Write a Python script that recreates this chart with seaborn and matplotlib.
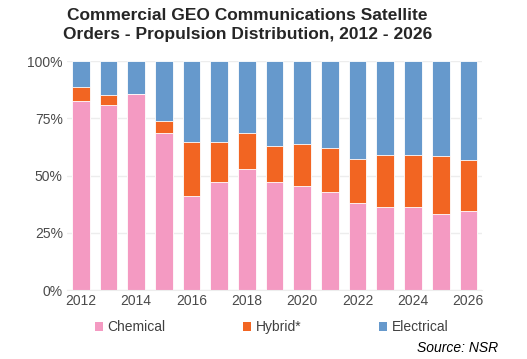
import matplotlib
matplotlib.use("Agg")
import matplotlib.pyplot as plt
import seaborn as sns
import pandas as pd
import numpy as np
from matplotlib.patches import Patch

years = [str(y) for y in range(2012, 2027)]
chemical = [82.5, 80.7, 85.8, 68.5, 41.0, 47.0, 52.7, 47.4, 45.3, 42.8, 37.8, 36.4, 36.4, 33.3, 34.6]
hybrid = [6.0, 4.3, 0.0, 5.2, 23.5, 17.5, 15.8, 15.7, 18.3, 19.1, 19.4, 22.7, 22.7, 25.2, 22.0]
electrical = [round(100 - c - h, 1) for c, h in zip(chemical, hybrid)]

series_names = ["Chemical", "Hybrid*", "Electrical"]
colors = {"Chemical": "#F49AC2", "Hybrid*": "#F26522", "Electrical": "#6699CC"}

sns.set_style("white")
plt.rcParams["font.family"] = ["Liberation Sans", "DejaVu Sans"]

df = pd.DataFrame({"year": years, "Chemical": chemical, "Hybrid*": hybrid, "Electrical": electrical})
df["cum_chem"] = df["Chemical"]
df["cum_hyb"] = df["Chemical"] + df["Hybrid*"]
df["cum_all"] = df["cum_hyb"] + df["Electrical"]

fig = plt.figure(figsize=(5.27, 3.59), dpi=100)
ax = fig.add_axes([0.127, 0.192, 0.788, 0.638])

for col, name in [("cum_all", "Electrical"), ("cum_hyb", "Hybrid*"), ("cum_chem", "Chemical")]:
    sns.barplot(data=df, x="year", y=col, color=colors[name], saturation=1, width=0.64,
                edgecolor="white", linewidth=0.6, ax=ax)

ax.set_xlim(-0.5, len(years) - 0.5)
ax.set_ylim(0, 100)
ax.set_yticks([0, 25, 50, 75, 100])
ax.set_yticklabels(["0%", "25%", "50%", "75%", "100%"])
ax.set_xticks(range(0, len(years), 2))
ax.set_xticklabels(years[::2])
ax.set_xlabel("")
ax.set_ylabel("")
ax.yaxis.grid(True, color="#EDEDED", linewidth=1)
ax.set_axisbelow(True)
for s in ["top", "right", "left"]:
    ax.spines[s].set_visible(False)
ax.spines["bottom"].set_color("#EDEDED")
ax.tick_params(axis="both", length=0, labelsize=10, colors="#4A4A4A", pad=3)

fig.suptitle("Commercial GEO Communications Satellite\nOrders - Propulsion Distribution, 2012 - 2026",
             x=0.47, y=0.977, fontsize=12.5, fontweight="bold", linespacing=1.3)

handles = [Patch(facecolor=colors[n], edgecolor="none") for n in series_names]
fig.legend(handles, series_names, loc="center", bbox_to_anchor=(0.515, 0.088), ncol=3,
           frameon=False, fontsize=10, handlelength=0.6, handleheight=0.6, handletextpad=0.3,
           columnspacing=5.6, labelcolor="#404040")

fig.text(0.945, 0.03, "Source: NSR", ha="right", va="center", fontsize=10, style="italic", color="black")

fig.savefig("out.png", dpi=100)
